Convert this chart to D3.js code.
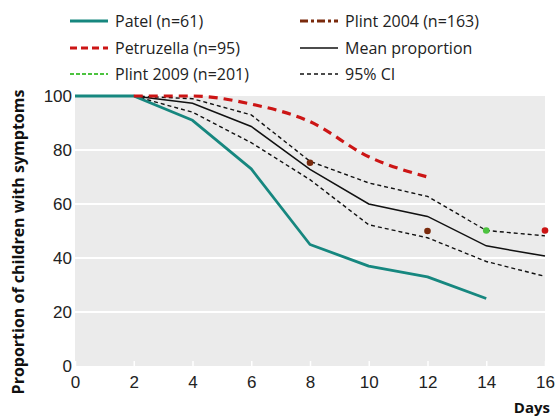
<!DOCTYPE html>
<html>
<head>
<meta charset="utf-8">
<script src="https://cdn.jsdelivr.net/npm/d3@7"></script>
<style>
  html, body { margin: 0; padding: 0; background: #fff; }
  svg { display: block; font-family: "Open Sans", "Noto Sans", sans-serif; }
</style>
</head>
<body>
<svg id="chart" width="556" height="418"></svg>
<script>
// Days of follow-up
const days = [0, 2, 4, 6, 8, 10, 12, 14, 16];
const xTicks = [0, 2, 4, 6, 8, 10, 12, 14, 16];
const yTicks = [0, 20, 40, 60, 80, 100];

// Proportion (%) of children still with symptoms, by study
const patelDays = [0, 2, 4, 6, 8, 10, 12, 14];
const patel = [100, 100, 91, 73, 45, 37, 33, 25];

const petruzellaDays = [2, 4, 6, 8, 10, 12];
const petruzella = [100, 100, 97, 90.5, 77.5, 70];

const plint2004Days = [8, 12];
const plint2004 = [75.3, 50];

const plint2009Days = [14];
const plint2009 = [50.2];

const petruzellaLateDays = [16];
const petruzellaLate = [50.2];

// Pooled mean and 95% confidence interval
const meanProportion = [100, 100, 97.3, 88.7, 72.8, 60, 55.4, 44.5, 40.7];
const ciDays = [2, 4, 6, 8, 10, 12, 14, 16];
const ciUpper = [100, 99, 93, 75.8, 67.8, 62.8, 50.2, 48.2];
const ciLower = [100, 94, 82.7, 69, 52.3, 47.5, 38.7, 33.2];

const colors = {
  patel: "#16877f",
  petruzella: "#cc1515",
  plint2004: "#7a2a0c",
  plint2009: "#4cc33f",
  mean: "#111111"
};

const svg = d3.select("#chart");
const margin = { left: 75, right: 11, top: 96, bottom: 52 };
const W = 556, H = 418;

const x = d3.scaleLinear().domain([0, 16]).range([margin.left, W - margin.right]);
const y = d3.scaleLinear().domain([0, 100]).range([H - margin.bottom, margin.top]);

// Plot background
svg.append("rect")
  .attr("x", x(0)).attr("y", y(100))
  .attr("width", x(16) - x(0)).attr("height", y(0) - y(100))
  .attr("fill", "#ebebeb");

// White gridlines
svg.append("g")
  .selectAll("line")
  .data(yTicks.filter(d => d > 0 && d < 100))
  .join("line")
  .attr("x1", x(0)).attr("x2", x(16))
  .attr("y1", d => y(d)).attr("y2", d => y(d))
  .attr("stroke", "#fff").attr("stroke-width", 2);

// Axes
const xAxis = svg.append("g")
  .attr("transform", `translate(0,${y(0)})`)
  .call(d3.axisBottom(x).tickValues(xTicks).tickSize(5).tickPadding(5).tickFormat(d3.format("d")));
xAxis.select(".domain").remove();
xAxis.selectAll(".tick line").attr("stroke", "#fff").attr("stroke-width", 1.5).attr("transform", "translate(0,-5)");
xAxis.selectAll("text").attr("font-size", 17).attr("fill", "#222");

const yAxis = svg.append("g")
  .attr("transform", `translate(${x(0)},0)`)
  .call(d3.axisLeft(y).tickValues(yTicks).tickSize(0).tickPadding(3));
yAxis.select(".domain").remove();
yAxis.selectAll("text").attr("font-size", 17).attr("fill", "#222");

// Axis titles
svg.append("text")
  .attr("transform", `translate(24,${(y(0) + y(100)) / 2 + 11}) rotate(-90)`)
  .attr("text-anchor", "middle")
  .attr("font-size", 16).attr("font-weight", "bold").attr("fill", "#111")
  .text("Proportion of children with symptoms");

svg.append("text")
  .attr("x", W - 6).attr("y", 413)
  .attr("text-anchor", "end")
  .attr("font-size", 15).attr("font-weight", "bold").attr("fill", "#111")
  .text("Days");

const line = d3.line().x(d => x(d[0])).y(d => y(d[1]));
const zip = (a, b) => a.map((d, i) => [d, b[i]]);

const plot = svg.append("g");

// Confidence interval bounds
[ciUpper, ciLower].forEach(series => {
  plot.append("path")
    .attr("d", line(zip(ciDays, series)))
    .attr("fill", "none").attr("stroke", "#111")
    .attr("stroke-width", 1.4).attr("stroke-dasharray", "4,3");
});

// Mean proportion
plot.append("path")
  .attr("d", line(zip(days, meanProportion)))
  .attr("fill", "none").attr("stroke", colors.mean).attr("stroke-width", 1.5);

// Patel
plot.append("path")
  .attr("d", line(zip(patelDays, patel)))
  .attr("fill", "none").attr("stroke", colors.patel).attr("stroke-width", 2.8)
  .attr("stroke-linejoin", "round");

// Petruzella
plot.append("path")
  .attr("d", d3.line().curve(d3.curveMonotoneX).x(d => x(d[0])).y(d => y(d[1]))(zip(petruzellaDays, petruzella)))
  .attr("fill", "none").attr("stroke", colors.petruzella).attr("stroke-width", 3.2)
  .attr("stroke-dasharray", "9,6");

// Single-day observations
const dots = [
  ...zip(plint2004Days, plint2004).map(d => ({ p: d, c: colors.plint2004 })),
  ...zip(plint2009Days, plint2009).map(d => ({ p: d, c: colors.plint2009 })),
  ...zip(petruzellaLateDays, petruzellaLate).map(d => ({ p: d, c: colors.petruzella }))
];
plot.selectAll("circle.obs")
  .data(dots).join("circle")
  .attr("class", "obs")
  .attr("cx", d => x(d.p[0])).attr("cy", d => y(d.p[1]))
  .attr("r", 3.3).attr("fill", d => d.c);

// Legend
const legendItems = [
  { label: "Patel (n=61)", color: colors.patel, width: 2.8, dash: null, col: 0, row: 0 },
  { label: "Petruzella (n=95)", color: colors.petruzella, width: 3.2, dash: "7,4", col: 0, row: 1 },
  { label: "Plint 2009 (n=201)", color: colors.plint2009, width: 2, dash: "4,2", col: 0, row: 2 },
  { label: "Plint 2004 (n=163)", color: colors.plint2004, width: 3, dash: "8,3,3,3", col: 1, row: 0 },
  { label: "Mean proportion", color: "#111", width: 1.5, dash: null, col: 1, row: 1 },
  { label: "95% CI", color: "#111", width: 1.3, dash: "4,3", col: 1, row: 2 }
];
const colX = [70, 300];
const rowY = [21, 48, 74];
const lg = svg.append("g");
legendItems.forEach(it => {
  const g = lg.append("g").attr("transform", `translate(${colX[it.col]},${rowY[it.row]})`);
  g.append("line")
    .attr("x1", 0).attr("x2", 38).attr("y1", 0).attr("y2", 0)
    .attr("stroke", it.color).attr("stroke-width", it.width)
    .attr("stroke-dasharray", it.dash);
  g.append("text")
    .attr("x", 45).attr("y", 0).attr("dy", "0.35em")
    .attr("font-size", 16).attr("fill", "#222")
    .text(it.label);
});
</script>
</body>
</html>
